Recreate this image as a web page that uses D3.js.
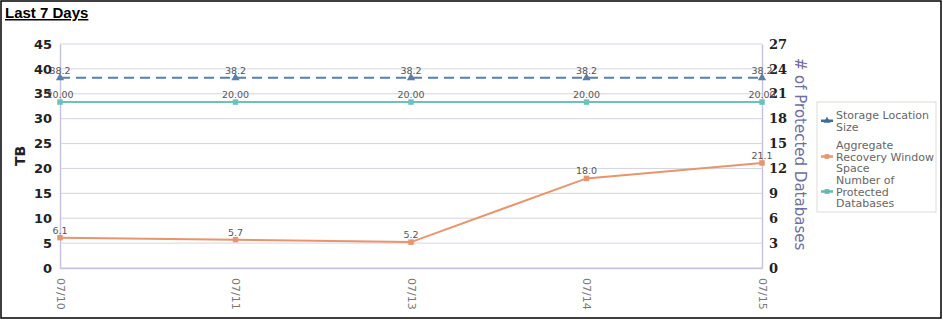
<!DOCTYPE html>
<html>
<head>
<meta charset="utf-8">
<script src="https://cdn.jsdelivr.net/npm/d3@7"></script>
<style>
  body { margin: 0; background: #fff; }
  svg { display: block; }
</style>
</head>
<body>
<svg id="chart" width="943" height="320"></svg>
<script>
// chart values
var days = ["07/10", "07/11", "07/13", "07/14", "07/15"];
var storageSize = [38.2, 38.2, 38.2, 38.2, 38.2];
var recoverySpace = [6.1, 5.7, 5.2, 18.0, 21.1];
var protectedDbs = [20, 20, 20, 20, 20];
var leftTicks = [0, 5, 10, 15, 20, 25, 30, 35, 40, 45];
var rightTicks = [0, 3, 6, 9, 12, 15, 18, 21, 24, 27];

(function (d3) {
    var svg = d3.select("#chart");
    var left = 60, right = 762, top = 44, bottom = 268;

    // frame + title
    svg.append("rect")
        .attr("x", 1).attr("y", 1)
        .attr("width", 940).attr("height", 317)
        .attr("fill", "none").attr("stroke", "#000").attr("stroke-width", 1.5);
    svg.append("text")
        .attr("x", 5).attr("y", 18)
        .attr("font-family", "Liberation Sans, Arial, sans-serif")
        .attr("font-weight", "bold").attr("font-size", 15)
        .attr("text-decoration", "underline")
        .text("Last 7 Days");

    var x = d3.scalePoint().domain(days).range([left, right]).padding(0);
    var yL = d3.scaleLinear().domain([0, 45]).range([bottom, top]);
    var yR = d3.scaleLinear().domain([0, 27]).range([bottom, top]);

    // gridlines
    svg.append("g")
        .selectAll("line")
        .data(leftTicks)
        .join("line")
            .attr("x1", left).attr("x2", right)
            .attr("y1", function (d) { return yL(d); })
            .attr("y2", function (d) { return yL(d); })
            .attr("stroke", "#d4d4e2").attr("stroke-width", 1);

    // axes
    var axisL = svg.append("g")
        .attr("transform", "translate(" + left + ",0)")
        .call(d3.axisLeft(yL).tickValues(leftTicks).tickSize(0).tickPadding(8));
    var axisR = svg.append("g")
        .attr("transform", "translate(" + right + ",0)")
        .call(d3.axisRight(yR).tickValues(rightTicks).tickSize(0).tickPadding(7));
    [axisL, axisR].forEach(function (a) {
        a.select(".domain").attr("stroke", "#c4c4dc").attr("stroke-width", 1.5);
        a.selectAll("text")
            .attr("font-family", "DejaVu Sans, sans-serif")
            .attr("font-weight", "bold").attr("font-size", 13)
            .attr("fill", "#222");
    });
    axisR.selectAll("text").attr("font-family", "DejaVu Serif, serif");

    var axisX = svg.append("g")
        .attr("transform", "translate(0," + bottom + ")")
        .call(d3.axisBottom(x).tickSize(0).tickPadding(0));
    axisX.select(".domain").attr("stroke", "#c4c4dc").attr("stroke-width", 1.5);
    axisX.selectAll("text")
        .attr("font-family", "DejaVu Sans, sans-serif")
        .attr("font-size", 11).attr("fill", "#777")
        .attr("text-anchor", "start")
        .attr("dy", null)
        .attr("transform", "translate(-4,10) rotate(90)");

    // axis titles
    svg.append("text")
        .attr("transform", "translate(25,156) rotate(-90)")
        .attr("text-anchor", "middle")
        .attr("font-family", "DejaVu Sans, sans-serif")
        .attr("font-weight", "bold").attr("font-size", 14)
        .attr("fill", "#222")
        .text("TB");
    svg.append("text")
        .attr("transform", "translate(795,154) rotate(90)")
        .attr("text-anchor", "middle")
        .attr("font-family", "DejaVu Sans, sans-serif")
        .attr("font-size", 15)
        .attr("fill", "#6e6ea0")
        .text("# of Protected Databases");

    var series = [
        { name: "Storage", values: storageSize, y: yL, color: "#5a7fa8", dash: "10,6", fmt: d3.format(".1f"), marker: "tri" },
        { name: "Recovery", values: recoverySpace, y: yL, color: "#e8946c", dash: null, fmt: d3.format(".1f"), marker: "sq" },
        { name: "Dbs", values: protectedDbs, y: yR, color: "#6cc2ba", dash: null, fmt: d3.format(".2f"), marker: "sq" }
    ];

    series.forEach(function (s) {
        var line = d3.line()
            .x(function (d, i) { return x(days[i]); })
            .y(function (d) { return s.y(d); });
        svg.append("path")
            .datum(s.values)
            .attr("d", line)
            .attr("fill", "none")
            .attr("stroke", s.color)
            .attr("stroke-width", 2)
            .attr("stroke-dasharray", s.dash);

        var sym = s.marker === "tri" ? d3.symbolTriangle : d3.symbolSquare;
        svg.append("g")
            .selectAll("path")
            .data(s.values)
            .join("path")
                .attr("transform", function (d, i) { return "translate(" + x(days[i]) + "," + s.y(d) + ")"; })
                .attr("d", d3.symbol(sym, 30))
                .attr("fill", s.color);

        svg.append("g")
            .selectAll("text")
            .data(s.values)
            .join("text")
                .attr("x", function (d, i) { return x(days[i]); })
                .attr("y", function (d) { return s.y(d) - 4; })
                .attr("text-anchor", "middle")
                .attr("font-family", "DejaVu Sans, sans-serif")
                .attr("font-size", 9.5)
                .attr("fill", "#555")
                .text(function (d) { return s.fmt(d); });
    });

    // legend
    var legend = svg.append("g").attr("transform", "translate(817,102)");
    legend.append("rect")
        .attr("width", 119).attr("height", 110)
        .attr("fill", "#fff").attr("stroke", "#dcdcd4");
    var items = [
        { lines: ["Storage Location", "Size"], color: "#3f6d99", y: 8, sym: d3.symbolTriangle },
        { lines: ["Aggregate", "Recovery Window", "Space"], color: "#e8946c", y: 38, sym: d3.symbolSquare },
        { lines: ["Number of", "Protected", "Databases"], color: "#5fb8b1", y: 73, sym: d3.symbolSquare }
    ];
    items.forEach(function (it) {
        var g = legend.append("g").attr("transform", "translate(0," + it.y + ")");
        var mid = (it.lines.length - 1) * 11.5 / 2;
        g.append("line")
            .attr("x1", 4).attr("x2", 16)
            .attr("y1", mid + 5).attr("y2", mid + 5)
            .attr("stroke", it.color).attr("stroke-width", 2.5);
        g.append("path")
            .attr("transform", "translate(10," + (mid + 5) + ")")
            .attr("d", d3.symbol(it.sym, 22))
            .attr("fill", it.color);
        g.selectAll("text")
            .data(it.lines)
            .join("text")
                .attr("x", 19)
                .attr("y", function (d, i) { return i * 11.5 + 9; })
                .attr("font-family", "DejaVu Sans, sans-serif")
                .attr("font-size", 11)
                .attr("fill", "#666")
                .text(function (d) { return d; });
    });
}).call(this, d3);
</script>
</body>
</html>
